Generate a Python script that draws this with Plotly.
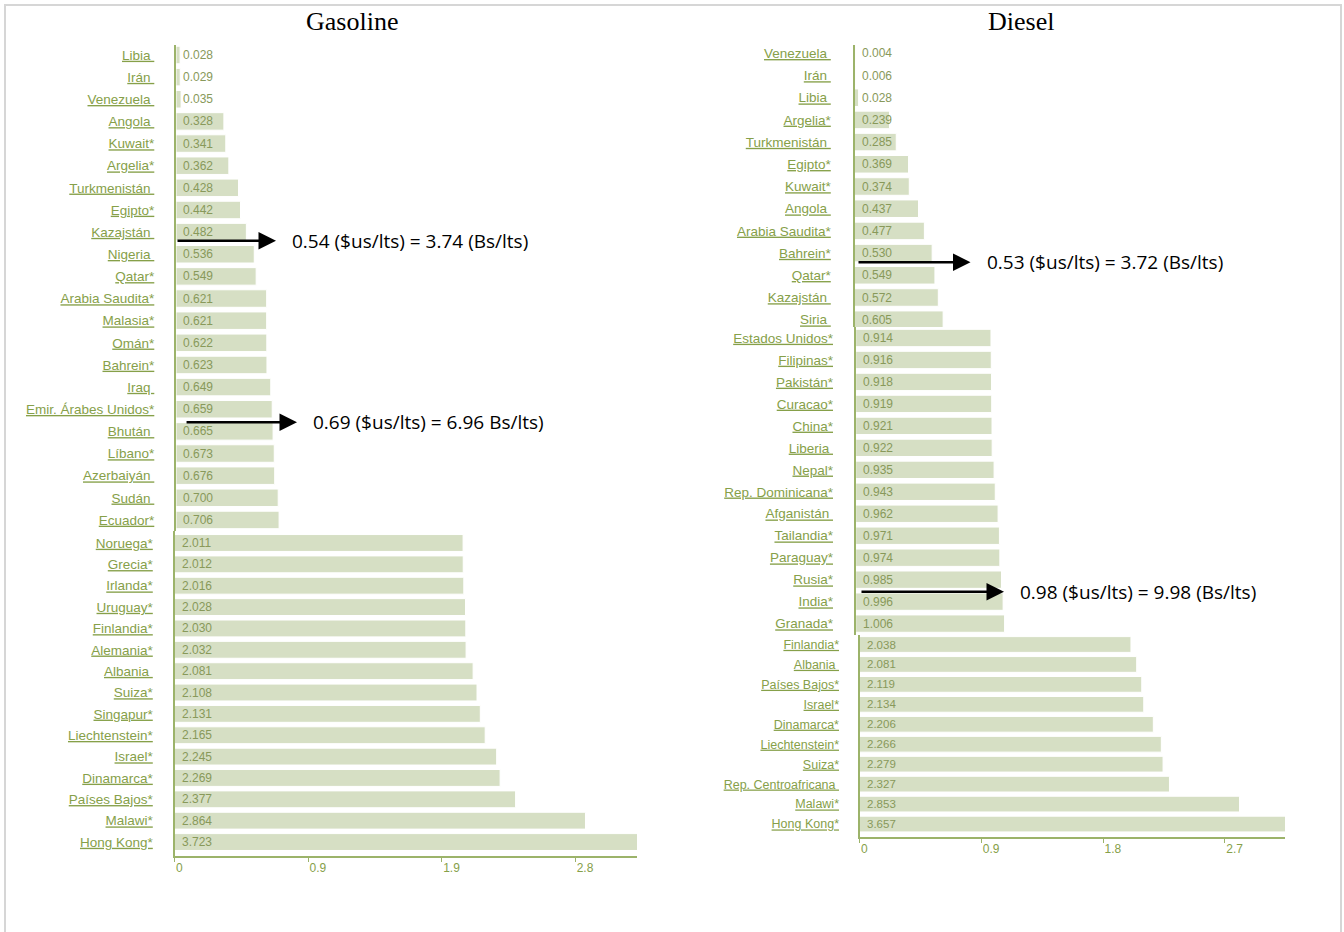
import plotly.graph_objects as go

W, H = 1344, 932

# ---------------- data ----------------
gas_top_names = ["Libia", "Irán", "Venezuela", "Angola", "Kuwait*", "Argelia*", "Turkmenistán",
                 "Egipto*", "Kazajstán", "Nigeria", "Qatar*", "Arabia Saudita*", "Malasia*", "Omán*",
                 "Bahrein*", "Iraq", "Emir. Árabes Unidos*", "Bhután", "Líbano*", "Azerbaiyán",
                 "Sudán", "Ecuador*"]
gas_top_values = [0.028, 0.029, 0.035, 0.328, 0.341, 0.362, 0.428, 0.442, 0.482, 0.536, 0.549,
                  0.621, 0.621, 0.622, 0.623, 0.649, 0.659, 0.665, 0.673, 0.676, 0.700, 0.706]

gas_bot_names = ["Noruega*", "Grecia*", "Irlanda*", "Uruguay*", "Finlandia*", "Alemania*", "Albania",
                 "Suiza*", "Singapur*", "Liechtenstein*", "Israel*", "Dinamarca*", "Países Bajos*",
                 "Malawi*", "Hong Kong*"]
gas_bot_values = [2.011, 2.012, 2.016, 2.028, 2.030, 2.032, 2.081, 2.108, 2.131, 2.165, 2.245,
                  2.269, 2.377, 2.864, 3.723]

dsl_top_names = ["Venezuela", "Irán", "Libia", "Argelia*", "Turkmenistán", "Egipto*", "Kuwait*",
                 "Angola", "Arabia Saudita*", "Bahrein*", "Qatar*", "Kazajstán", "Siria"]
dsl_top_values = [0.004, 0.006, 0.028, 0.239, 0.285, 0.369, 0.374, 0.437, 0.477, 0.530, 0.549,
                  0.572, 0.605]

dsl_mid_names = ["Estados Unidos*", "Filipinas*", "Pakistán*", "Curacao*", "China*", "Liberia",
                 "Nepal*", "Rep. Dominicana*", "Afganistán", "Tailandia*", "Paraguay*", "Rusia*",
                 "India*", "Granada*"]
dsl_mid_values = [0.914, 0.916, 0.918, 0.919, 0.921, 0.922, 0.935, 0.943, 0.962, 0.971, 0.974,
                  0.985, 0.996, 1.006]

dsl_bot_names = ["Finlandia*", "Albania", "Países Bajos*", "Israel*", "Dinamarca*", "Liechtenstein*",
                 "Suiza*", "Rep. Centroafricana", "Malawi*", "Hong Kong*"]
dsl_bot_values = [2.038, 2.081, 2.119, 2.134, 2.206, 2.266, 2.279, 2.327, 2.853, 3.657]

titles = ["Gasoline", "Diesel"]
note_texts = ["0.54 ($us/lts) = 3.74 (Bs/lts)", "0.69 ($us/lts) = 6.96 Bs/lts)",
              "0.53 ($us/lts) = 3.72 (Bs/lts)", "0.98 ($us/lts) = 9.98 (Bs/lts)"]

# ---------------- styling ----------------
BAR = "#d6dfc4"
AXIS = "#9cb36a"
LABEL = "#86a049"
VALUE = "#88995a"
SANS = "Liberation Sans, Arial, sans-serif"

# section layout (pixel geometry): first row centre, row pitch, domain top/bottom, zero x, end x, px per unit
sections = [
    dict(names=gas_top_names, values=gas_top_values, c0=55.0, pitch=22.14, top=45, bottom=531,
         zero=176.0, end=637.0, ppu=146.0, lfs=13.5, standoff=17, showx=False, tmax=None),
    dict(names=gas_bot_names, values=gas_bot_values, c0=543.0, pitch=21.36, top=531, bottom=856,
         zero=174.5, end=637.0, ppu=143.5, lfs=13.5, standoff=17, showx=True, tmax=max(gas_bot_values)),
    dict(names=dsl_top_names, values=dsl_top_values, c0=53.3, pitch=22.2, top=45, bottom=327,
         zero=854.5, end=1285.0, ppu=146.5, lfs=13.5, standoff=19, showx=False, tmax=None),
    dict(names=dsl_mid_names, values=dsl_mid_values, c0=338.0, pitch=21.97, top=327, bottom=635,
         zero=855.7, end=1285.0, ppu=148.0, lfs=13.5, standoff=18, showx=False, tmax=None),
    dict(names=dsl_bot_names, values=dsl_bot_values, c0=644.5, pitch=19.95, top=635, bottom=836.7,
         zero=859.5, end=1285.0, ppu=133.2, lfs=12.5, standoff=16, showx=True, tmax=max(dsl_bot_values)),
]

fig = go.Figure()
layout = dict(width=W, height=H, margin=dict(l=0, r=0, t=0, b=0), autosize=False,
              paper_bgcolor="white", plot_bgcolor="rgba(0,0,0,0)", showlegend=False,
              bargap=0.21, font=dict(family=SANS, color=LABEL))
annotations = []


def label(n):
    tail = "" if n.endswith("*") else "\u00a0"
    return "<u>" + n + tail + "</u>"


for i, s in enumerate(sections, start=1):
    xa = "x" if i == 1 else f"x{i}"
    ya = "y" if i == 1 else f"y{i}"
    r_top = -(s["c0"] - s["top"]) / s["pitch"]
    r_bot = (s["bottom"] - s["c0"]) / s["pitch"]
    xmax = (s["end"] - s["zero"]) / s["ppu"]

    fig.add_trace(go.Bar(x=s["values"], y=s["names"], orientation="h", xaxis=xa, yaxis=ya,
                         marker=dict(color=BAR, line=dict(color="white", width=1)),
                         hoverinfo="x+y"))

    xaxis = dict(domain=[s["zero"] / W, s["end"] / W], range=[0, xmax], anchor=ya,
                 showgrid=False, zeroline=False, fixedrange=True)
    if s["showx"]:
        step = s["tmax"] / 4
        tv = [k * step for k in range(4)]
        tt = ["0"] + [f"{v:.1f}" for v in tv[1:]]
        xaxis.update(showline=True, linecolor=AXIS, linewidth=2, ticks="outside", ticklen=4,
                     tickcolor=AXIS, tickwidth=1, tickvals=tv, ticktext=tt,
                     ticklabelposition="outside right",
                     tickfont=dict(family=SANS, size=12, color=LABEL))
    else:
        xaxis.update(visible=False)

    yaxis = dict(domain=[1 - s["bottom"] / H, 1 - s["top"] / H], anchor=xa, type="category",
                 categoryorder="array", categoryarray=s["names"], range=[r_bot, r_top],
                 showgrid=False, zeroline=False, showline=True, linecolor=AXIS, linewidth=2,
                 ticks="", tickvals=s["names"], ticktext=[label(nm) for nm in s["names"]],
                 ticklabelstandoff=s["standoff"],
                 tickfont=dict(family=SANS, size=s["lfs"], color=LABEL), fixedrange=True)

    layout["xaxis" if i == 1 else f"xaxis{i}"] = xaxis
    layout["yaxis" if i == 1 else f"yaxis{i}"] = yaxis

    for nm, v in zip(s["names"], s["values"]):
        annotations.append(dict(x=0, y=nm, xref=xa, yref=ya, text=f"{v:.3f}", showarrow=False,
                                xanchor="left", yanchor="middle", xshift=5,
                                font=dict(family=SANS, size=12 if i != 5 else 11.5, color=VALUE)))

# titles
for t, cx in zip(titles, [352, 1021]):
    annotations.append(dict(x=cx / W, y=1 - 21.5 / H, xref="paper", yref="paper", text=t,
                            showarrow=False, xanchor="center", yanchor="middle",
                            font=dict(family="Liberation Serif, Times New Roman, serif", size=26,
                                      color="black")))

# arrows with notes: (section index, row position, tail value, tip value)
arrow_specs = [(1, 8.39, 0.0, 0.685), (1, 16.59, 0.062, 0.829), (3, 9.41, 0.017, 0.792),
               (4, 11.55, 0.029, 1.002)]
for (sec, yr, tail, tip), txt in zip(arrow_specs, note_texts):
    xa = "x" if sec == 1 else f"x{sec}"
    ya = "y" if sec == 1 else f"y{sec}"
    annotations.append(dict(x=tip, y=yr, ax=tail, ay=yr, xref=xa, yref=ya, axref=xa, ayref=ya,
                            text="", showarrow=True, arrowhead=2, arrowsize=1.4, arrowwidth=2.5,
                            arrowcolor="black", standoff=0))
    annotations.append(dict(x=tip, y=yr, xref=xa, yref=ya, text=txt, showarrow=False,
                            xanchor="left", yanchor="middle", xshift=14,
                            font=dict(family="Open Sans, sans-serif", size=19, color="black")))

layout["annotations"] = annotations
layout["shapes"] = [dict(type="rect", xref="paper", yref="paper", x0=5 / W, x1=1341 / W,
                         y0=-0.05, y1=1 - 5 / H, line=dict(color="#d6d6d6", width=2),
                         layer="below")]
fig.update_layout(**layout)
fig.write_html("out.html")
